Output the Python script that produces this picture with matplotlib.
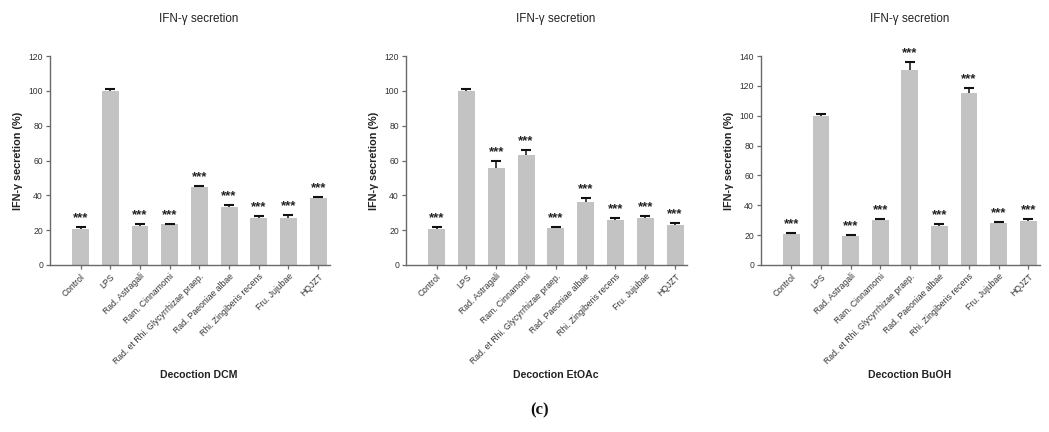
import matplotlib
matplotlib.use("Agg")
import matplotlib.pyplot as plt
import numpy as np

plt.rcParams['font.family'] = ['Liberation Sans', 'DejaVu Sans']

categories = ["Control", "LPS", "Rad. Astragali", "Ram. Cinnamomi",
              "Rad. et Rhi. Glycyrrhizae praep.", "Rad. Paeoniae albae",
              "Rhi. Zingiberis recens", "Fru. Jujubae", "HQJZT"]

dcm_mean = [20.7, 100.0, 22.2, 23.3, 44.7, 33.5, 26.8, 27.2, 38.6]
dcm_err = [1.0, 1.2, 1.1, 0.3, 0.8, 1.1, 1.3, 1.3, 0.4]

etoac_mean = [20.7, 100.0, 55.5, 63.2, 21.2, 36.4, 25.6, 27.0, 23.0]
etoac_err = [1.1, 1.2, 4.0, 2.6, 0.8, 1.9, 1.2, 1.1, 1.3]

buoh_mean = [20.5, 100.0, 19.4, 30.4, 130.6, 26.1, 115.0, 28.4, 29.7]
buoh_err = [1.2, 1.4, 0.5, 0.6, 5.1, 1.4, 3.6, 0.4, 0.9]

stars = ["***", "", "***", "***", "***", "***", "***", "***", "***"]

panels = [
    ("Decoction DCM", dcm_mean, dcm_err, 120, [0, 20, 40, 60, 80, 100, 120]),
    ("Decoction EtOAc", etoac_mean, etoac_err, 120, [0, 20, 40, 60, 80, 100, 120]),
    ("Decoction BuOH", buoh_mean, buoh_err, 140, [0, 20, 40, 60, 80, 100, 120, 140]),
]

W, H = 1049, 432
fig = plt.figure(figsize=(W / 100, H / 100), dpi=100)

axis_color = "#6a6a6a"
text_color = "#333333"
bar_color = "#c3c3c3"

lefts = [50, 406, 761]
widths = [280, 281, 279]
top_px, zero_px = 56, 265

for (xlab, mean, err, ymax, yticks), lp, wp in zip(panels, lefts, widths):
    ax = fig.add_axes([lp / W, 1 - zero_px / H, wp / W, (zero_px - top_px) / H])
    x = np.arange(len(categories))
    mean = np.asarray(mean)
    top = mean + np.asarray(err)
    ax.bar(x, mean, width=0.57, color=bar_color, edgecolor="none", zorder=2)
    # upper-only error bars: stem plus a single cap
    ax.vlines(x, mean, top, color="#111111", linewidth=1.1, zorder=3)
    ax.plot(x, top, linestyle="none", marker="_", markersize=6.5,
            markeredgewidth=1.5, color="#111111", zorder=3)
    for xi, t, s in zip(x, top, stars):
        if s:
            ax.annotate(s, (xi, t), xytext=(0, 4.2), textcoords="offset points",
                        ha="center", va="baseline", fontsize=9.5, fontweight="bold",
                        color="#222222")
    ax.set_xlim(-1.03, 8.4)
    ax.set_ylim(0, ymax)
    ax.set_yticks(yticks)
    ax.set_xticks(x)
    ax.set_xticklabels(categories, rotation=45, ha="right", rotation_mode="anchor")
    for sp in ["top", "right"]:
        ax.spines[sp].set_visible(False)
    for sp in ["left", "bottom"]:
        ax.spines[sp].set_color(axis_color)
        ax.spines[sp].set_linewidth(1.0)
    ax.tick_params(axis="both", direction="out", length=3, width=0.9,
                   color=axis_color, labelsize=6.2, labelcolor=text_color, pad=2)
    ax.set_ylabel("IFN-γ secretion (%)", fontsize=7.8, fontweight="bold", color="#222222")
    ax.yaxis.set_label_coords(-0.095, 0.5)
    ax.set_xlabel(xlab, fontsize=7.6, fontweight="bold", color="#222222")
    ax.xaxis.set_label_coords(0.532, -0.50)
    ax.text(0.532, 1 + 37 / 209, "IFN-γ secretion", transform=ax.transAxes,
            ha="center", va="center", fontsize=8.4, color="#222222")

fig.text(540 / W, 1 - 410 / H, "(c)", ha="center", va="center",
         fontsize=12, fontweight="bold", family="Liberation Serif", color="#111111")

fig.savefig("out.png", dpi=100, facecolor="white")
